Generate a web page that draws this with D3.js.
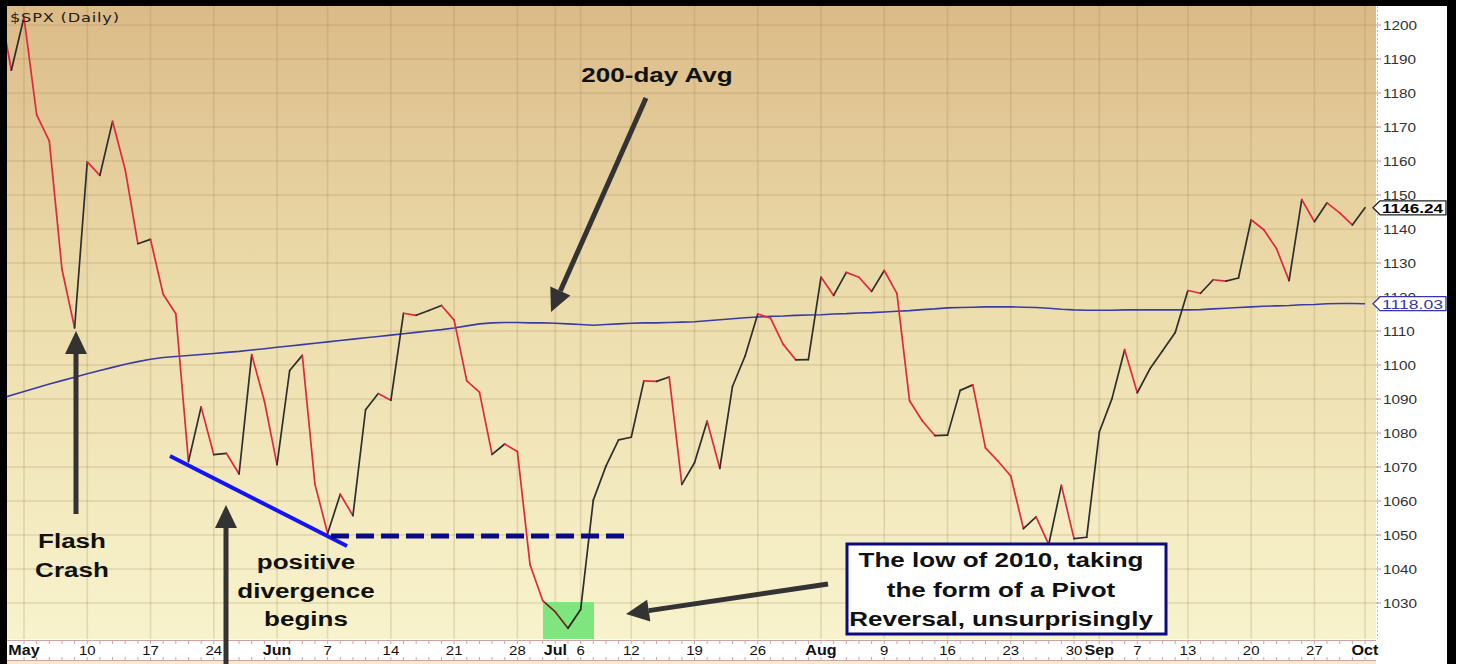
<!DOCTYPE html>
<html>
<head>
<meta charset="utf-8">
<script src="https://cdn.jsdelivr.net/npm/d3@7"></script>
<style>
html, body { margin: 0; padding: 0; background: #fff; }
svg { display: block; }
</style>
</head>
<body>
<svg id="chart" width="1461" height="664"></svg>
<script>
// ---------------- data ----------------
var dates = [
  "04-29","04-30",
  "05-03","05-04","05-05","05-06","05-07","05-10","05-11","05-12","05-13","05-14",
  "05-17","05-18","05-19","05-20","05-21","05-24","05-25","05-26","05-27","05-28",
  "06-01","06-02","06-03","06-04","06-07","06-08","06-09","06-10","06-11","06-14",
  "06-15","06-16","06-17","06-18","06-21","06-22","06-23","06-24","06-25","06-28",
  "06-29","06-30",
  "07-01","07-02","07-06","07-07","07-08","07-09","07-12","07-13","07-14","07-15",
  "07-16","07-19","07-20","07-21","07-22","07-23","07-26","07-27","07-28","07-29","07-30",
  "08-02","08-03","08-04","08-05","08-06","08-09","08-10","08-11","08-12","08-13",
  "08-16","08-17","08-18","08-19","08-20","08-23","08-24","08-25","08-26","08-27",
  "08-30","08-31",
  "09-01","09-02","09-03","09-07","09-08","09-09","09-10","09-13","09-14","09-15",
  "09-16","09-17","09-20","09-21","09-22","09-23","09-24","09-27","09-28","09-29","09-30",
  "10-01"
];

var closes = [
  1206.78, 1186.69,
  1202.26, 1173.60, 1165.90, 1128.15, 1110.88, 1159.73, 1155.79, 1171.67, 1157.44, 1135.68,
  1136.94, 1120.80, 1115.05, 1071.59, 1087.69, 1073.65, 1074.03, 1067.95, 1103.06, 1089.41,
  1070.71, 1098.38, 1102.83, 1064.88, 1050.47, 1062.00, 1055.69, 1086.84, 1091.60, 1089.63,
  1115.23, 1114.61, 1116.04, 1117.51, 1113.20, 1095.31, 1092.04, 1073.69, 1076.76, 1074.57,
  1041.24, 1030.71,
  1027.37, 1022.58, 1028.06, 1060.27, 1070.25, 1077.96, 1078.75, 1095.34, 1095.17, 1096.48,
  1064.88, 1071.25, 1083.48, 1069.59, 1093.67, 1102.66, 1115.01, 1113.84, 1106.13, 1101.53, 1101.60,
  1125.86, 1120.46, 1127.24, 1125.81, 1121.64, 1127.79, 1121.06, 1089.47, 1083.61, 1079.25,
  1079.38, 1092.54, 1094.16, 1075.63, 1071.69, 1067.36, 1051.87, 1055.33, 1047.22, 1064.59,
  1048.92, 1049.33,
  1080.29, 1090.10, 1104.51, 1091.84, 1098.87, 1104.18, 1109.55, 1121.90, 1121.10, 1125.07,
  1124.66, 1125.59, 1142.71, 1139.78, 1134.28, 1124.83, 1148.67, 1142.16, 1147.70, 1144.73, 1141.20,
  1146.24
];

var avg200 = [
  1090.0, 1091.1,
  1092.2, 1093.3, 1094.4, 1095.4, 1096.4, 1097.4, 1098.4, 1099.3, 1100.2, 1101.0,
  1101.7, 1102.2, 1102.5, 1102.8, 1103.1, 1103.4, 1103.7, 1104.0, 1104.4, 1104.8,
  1105.2, 1105.6, 1106.0, 1106.4, 1106.8, 1107.2, 1107.6, 1108.0, 1108.4, 1108.8,
  1109.2, 1109.6, 1110.0, 1110.4, 1110.9, 1111.5, 1112.1, 1112.4, 1112.5, 1112.5,
  1112.4, 1112.4,
  1112.3, 1112.1, 1111.9, 1111.7, 1111.9, 1112.1, 1112.3, 1112.4, 1112.4, 1112.5,
  1112.6, 1112.7, 1113.0, 1113.3, 1113.6, 1113.9, 1114.1, 1114.3, 1114.4, 1114.6, 1114.7,
  1114.8, 1115.0, 1115.1, 1115.3, 1115.4, 1115.6, 1115.8, 1116.0, 1116.3, 1116.5,
  1116.8, 1116.9, 1117.0, 1117.1, 1117.1, 1117.1, 1117.0, 1116.9, 1116.7, 1116.4,
  1116.2, 1116.1,
  1116.1, 1116.1, 1116.2, 1116.2, 1116.2, 1116.2, 1116.2, 1116.2, 1116.3, 1116.5,
  1116.7, 1116.9, 1117.1, 1117.3, 1117.4, 1117.5, 1117.7, 1117.8, 1118.0, 1118.1, 1118.1,
  1118.03
];

var tickDates  = ["05-03","05-10","05-17","05-24","06-01","06-07","06-14","06-21","06-28","07-01","07-06","07-12",
                  "07-19","07-26","08-02","08-09","08-16","08-23","08-30","09-01","09-07","09-13","09-20","09-27","10-01"];
var tickLabels = ["May","10","17","24","Jun","7","14","21","28","Jul","6","12",
                  "19","26","Aug","9","16","23","30","Sep","7","13","20","27","Oct"];
var monthNames = ["May","Jun","Jul","Aug","Sep","Oct"];
var yTicks = [1030,1040,1050,1060,1070,1080,1090,1100,1110,1120,1130,1140,1150,1160,1170,1180,1190,1200];

var lastClose = "1146.24";
var lastAvg = "1118.03";
var flashLines = ["Flash", "Crash"];
var divLines = ["positive", "divergence", "begins"];
var boxLines = ["The low of 2010, taking", "the form of a Pivot", "Reversal, unsurprisingly"];

// ---------------- setup ----------------
var FONT = "Arial, 'Liberation Sans', sans-serif";
var SX = 1.24;   // the original picture is stretched sideways
var plot = {left: 7, top: 6, right: 1376, bottom: 639};

var svg = d3.select("#chart");

var x = d3.scalePoint().domain(dates).range([-1.3, 1365]);
var y = d3.scaleLinear().domain([1030, 1200]).range([603, 25]);

var label = function(g, px, py, str, size, weight, anchor, fill, sx) {
    return g.append("text")
        .attr("transform", "translate(" + px + "," + py + ") scale(" + (sx || SX) + ",1)")
        .attr("text-anchor", anchor)
        .attr("fill", fill)
        .style("font-family", FONT)
        .style("font-size", size + "px")
        .style("font-weight", weight)
        .text(str);
}

// background gradient
var defs = svg.append("defs");
var grad = defs.append("linearGradient").attr("id", "bg").attr("x1", 0).attr("y1", 0).attr("x2", 0).attr("y2", 1);
grad.append("stop").attr("offset", "0%").attr("stop-color", "#dbbb88");
grad.append("stop").attr("offset", "45%").attr("stop-color", "#ecdcab");
grad.append("stop").attr("offset", "100%").attr("stop-color", "#f8f3cd");

defs.append("clipPath").attr("id", "plotclip")
    .append("rect")
    .attr("x", plot.left).attr("y", plot.top)
    .attr("width", plot.right - plot.left).attr("height", plot.bottom - plot.top);

svg.append("rect")
    .attr("x", plot.left).attr("y", plot.top)
    .attr("width", plot.right - plot.left).attr("height", plot.bottom - plot.top)
    .attr("fill", "url(#bg)");

// grid
var grid = svg.append("g").attr("clip-path", "url(#plotclip)");
grid.selectAll("line.h")
    .data(yTicks)
    .join("line")
    .attr("class", "h")
    .attr("x1", plot.left).attr("x2", plot.right)
    .attr("y1", function(d) { return y(d); }).attr("y2", function(d) { return y(d); })
    .attr("stroke", "#9c7a48").attr("stroke-opacity", 0.22).attr("stroke-width", 1.6);
grid.selectAll("line.v")
    .data(tickDates)
    .join("line")
    .attr("class", "v")
    .attr("y1", plot.top).attr("y2", plot.bottom)
    .attr("x1", function(d) { return x(d); }).attr("x2", function(d) { return x(d); })
    .attr("stroke", "#9c7a48").attr("stroke-opacity", 0.22).attr("stroke-width", 1.6);

// ---------------- series ----------------
var marks = svg.append("g").attr("clip-path", "url(#plotclip)");

var avgLine = d3.line()
    .x(function(d, i) { return x(dates[i]); })
    .y(function(d) { return y(d); });

marks.append("path")
    .datum(avg200)
    .attr("d", avgLine)
    .attr("fill", "none")
    .attr("stroke", "#3b3ba6")
    .attr("stroke-width", 1.6);

// price line: red on down days, dark on up days
var segs = closes.slice(1).map(function(c, i) {
    return {a: dates[i], b: dates[i + 1], va: closes[i], vb: c};
});
marks.selectAll("line.seg")
    .data(segs)
    .join("line")
    .attr("class", "seg")
    .attr("x1", function(d) { return x(d.a); })
    .attr("y1", function(d) { return y(d.va); })
    .attr("x2", function(d) { return x(d.b); })
    .attr("y2", function(d) { return y(d.vb); })
    .attr("stroke", function(d) { return d.vb < d.va ? "#e2283f" : "#2e2e2e"; })
    .attr("stroke-width", 1.7)
    .attr("stroke-linecap", "round");

// green highlight over the low
marks.append("rect")
    .attr("x", 543).attr("y", 602)
    .attr("width", 51).attr("height", plot.bottom - 602)
    .attr("fill", "#7fe57f")
    .style("mix-blend-mode", "multiply");

// divergence lines
marks.append("line")
    .attr("x1", 170).attr("y1", 456).attr("x2", 347).attr("y2", 546)
    .attr("stroke", "#1414f0").attr("stroke-width", 4);
marks.append("line")
    .attr("x1", 331).attr("y1", 536).attr("x2", 625).attr("y2", 536)
    .attr("stroke", "#0a0a84").attr("stroke-width", 5)
    .attr("stroke-dasharray", "18,7");

// ---------------- x axis strip ----------------
svg.append("rect")
    .attr("x", plot.left).attr("y", plot.bottom)
    .attr("width", plot.right - plot.left).attr("height", 22)
    .attr("fill", "#fff");
svg.append("rect")
    .attr("x", plot.left).attr("y", 661)
    .attr("width", plot.right - plot.left).attr("height", 3)
    .attr("fill", "#f4ecc6");

var strip = svg.append("g");
[640.5, 660.5].forEach(function(ly) {
    strip.append("line")
        .attr("x1", plot.left).attr("x2", plot.right)
        .attr("y1", ly).attr("y2", ly)
        .attr("stroke", "#cfa3a3").attr("stroke-width", 1);
});
strip.selectAll("line.dt")
    .data(dates.slice(2))
    .join("line")
    .attr("class", "dt")
    .attr("x1", function(d) { return x(d); }).attr("x2", function(d) { return x(d); })
    .attr("y1", 641).attr("y2", 644)
    .attr("stroke", "#cfa3a3");
strip.selectAll("line.db")
    .data(dates.slice(2))
    .join("line")
    .attr("class", "db")
    .attr("x1", function(d) { return x(d); }).attr("x2", function(d) { return x(d); })
    .attr("y1", 657).attr("y2", 660)
    .attr("stroke", "#cfa3a3");

tickDates.forEach(function(d, i) {
    var lab = tickLabels[i];
    var isMonth = monthNames.indexOf(lab) >= 0;
    label(strip, x(d), 655, lab, isMonth ? 14 : 13, isMonth ? "bold" : "normal", "middle", "#111", 1.15);
});

// ---------------- right axis ----------------
var raxis = svg.append("g");
raxis.append("line")
    .attr("x1", plot.right + 1.5).attr("x2", plot.right + 1.5)
    .attr("y1", plot.top).attr("y2", plot.bottom)
    .attr("stroke", "#d6b0b0").attr("stroke-width", 1)
    .attr("stroke-dasharray", "2,2");
raxis.selectAll("line.tk")
    .data(yTicks)
    .join("line")
    .attr("class", "tk")
    .attr("x1", plot.right).attr("x2", plot.right + 5)
    .attr("y1", function(d) { return y(d); }).attr("y2", function(d) { return y(d); })
    .attr("stroke", "#c49090");
yTicks.forEach(function(v) {
    label(raxis, plot.right + 7, y(v) + 5, String(v), 13, "normal", "start", "#333", 1.18);
});

// last value tags
var tag = function(val, txt, stroke, fill, weight) {
    var cy = y(+val);
    raxis.append("path")
        .attr("d", "M1373," + cy + " L1380," + (cy - 7) + " L1446," + (cy - 7) + " L1446," + (cy + 7) + " L1380," + (cy + 7) + " Z")
        .attr("fill", "#fff").attr("stroke", stroke).attr("stroke-width", 1.3);
    raxis.append("text")
        .attr("x", 1382).attr("y", cy + 5)
        .attr("fill", fill)
        .attr("textLength", 61).attr("lengthAdjust", "spacingAndGlyphs")
        .style("font-family", FONT).style("font-size", "13.5px").style("font-weight", weight)
        .text(txt);
}
tag(lastClose, lastClose, "#222", "#000", "bold");
tag(lastAvg, lastAvg, "#3535a8", "#3535a8", "normal");

// ---------------- annotations ----------------
var ann = svg.append("g");

var arrow = function(x1, y1, x2, y2) {
    var ang = Math.atan2(y2 - y1, x2 - x1);
    var len = 23, half = 11;
    var bx = x2 - len * Math.cos(ang), by = y2 - len * Math.sin(ang);
    ann.append("line")
        .attr("x1", x1).attr("y1", y1).attr("x2", bx).attr("y2", by)
        .attr("stroke", "#333").attr("stroke-width", 5);
    var px = -Math.sin(ang) * half, py = Math.cos(ang) * half;
    ann.append("path")
        .attr("d", "M" + x2 + "," + y2 + " L" + (bx + px) + "," + (by + py) + " L" + (bx - px) + "," + (by - py) + " Z")
        .attr("fill", "#333");
}

arrow(646, 98, 551, 312);
arrow(76, 514, 76, 331);
arrow(226, 664, 226, 505);
arrow(828, 584, 626, 614);

label(ann, 657, 82, "200-day Avg", 21, "bold", "middle", "#111");

flashLines.forEach(function(t, i) {
    label(ann, 72, 548 + i * 29, t, 21, "bold", "middle", "#111");
});
divLines.forEach(function(t, i) {
    label(ann, 306, 569 + i * 28.5, t, 21, "bold", "middle", "#111");
});

ann.append("rect")
    .attr("x", 847).attr("y", 544)
    .attr("width", 319).attr("height", 90)
    .attr("fill", "#fff")
    .attr("stroke", "#0c0c80").attr("stroke-width", 3);
boxLines.forEach(function(t, i) {
    label(ann, 1001, 567 + i * 29.5, t, 21, "bold", "middle", "#111");
});

label(ann, 10, 22, "$SPX (Daily)", 12.5, "normal", "start", "#222", 1.3)
    .style("font-family", "'DejaVu Sans', sans-serif")
    .style("letter-spacing", "0.6px");

// ---------------- frame ----------------
svg.append("rect").attr("x", 0).attr("y", 0).attr("width", 7).attr("height", 664).attr("fill", "#000");
svg.append("rect").attr("x", 0).attr("y", 0).attr("width", 1456).attr("height", 6).attr("fill", "#000");
svg.append("rect").attr("x", 1447).attr("y", 0).attr("width", 9).attr("height", 664).attr("fill", "#000");
</script>
</body>
</html>
